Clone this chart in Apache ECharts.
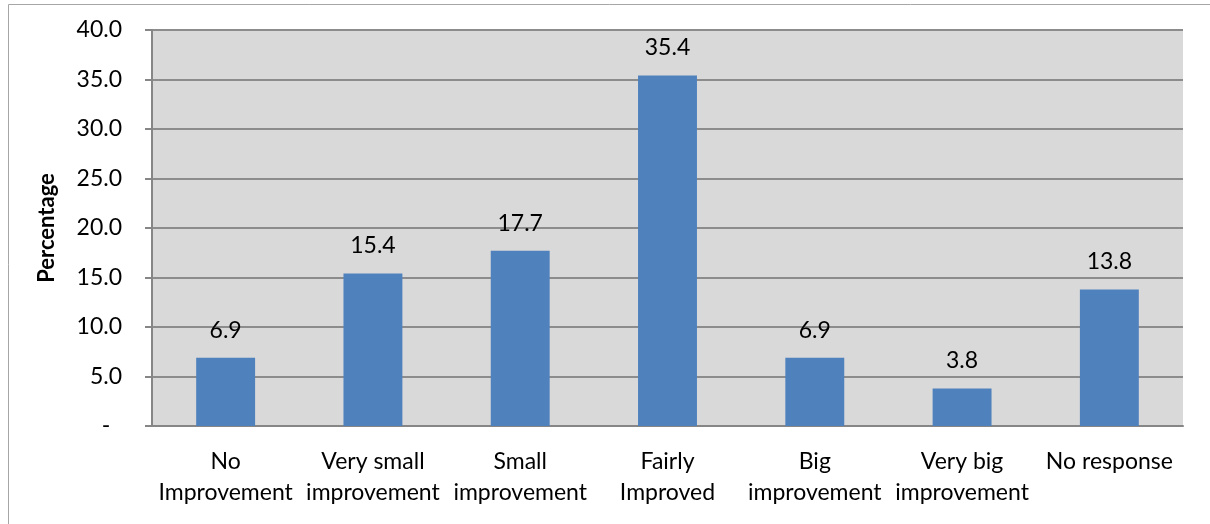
<!DOCTYPE html>
<html><head><meta charset="utf-8">
<script src="https://cdn.jsdelivr.net/npm/echarts@6/dist/echarts.min.js"></script>
<style>html,body{margin:0;padding:0;background:#fff}#c{width:1210px;height:524px}</style>
</head><body><div id="c"></div>
<script>
const categories = ["No\nImprovement","Very small\nimprovement","Small\nimprovement","Fairly\nImproved","Big\nimprovement","Very big\nimprovement","No response"];
const values = [6.9, 15.4, 17.7, 35.4, 6.9, 3.8, 13.8];
const yAxisTitle = "Percentage";
const FONT = "Lato, 'Open Sans', sans-serif";
const chart = echarts.init(document.getElementById('c'), null, {renderer:'canvas'});
chart.setOption({
  animation:false,
  textStyle:{fontFamily:FONT},
  graphic:[{type:'rect', shape:{x:8.5,y:4.5,width:1300,height:600}, style:{fill:null, stroke:'#a6a6a6', lineWidth:1}, z:-1}],
  grid:{left:152, right:27, top:30, bottom:98, show:true, backgroundColor:'#d9d9d9', borderWidth:0},
  xAxis:{type:'category', data:categories,
    axisLine:{lineStyle:{color:'#868686', width:2}},
    axisTick:{show:false},
    axisLabel:{color:'#000', fontSize:23, fontFamily:FONT, lineHeight:31, margin:20, interval:0}
  },
  yAxis:{type:'value', min:0, max:40, interval:5,
    name:yAxisTitle, nameLocation:'middle', nameGap:94, nameRotate:90,
    nameTextStyle:{color:'#000', fontSize:22, fontWeight:'bold', fontFamily:FONT},
    axisLine:{show:true, lineStyle:{color:'#868686', width:2}},
    axisTick:{show:true, length:7, lineStyle:{color:'#868686', width:2}},
    splitLine:{lineStyle:{color:'#8c8c8c', width:2}},
    axisLabel:{color:'#000', fontSize:23, fontFamily:FONT, margin:30,
      formatter:v=> v===0 ? '-  ' : v.toFixed(1)}
  },
  series:[{type:'bar', data:values, barWidth:'40%',
    itemStyle:{color:'#4f81bd'},
    label:{show:true, position:'top', distance:16, color:'#000', fontSize:23, fontFamily:FONT,
      formatter:p=>p.value.toFixed(1)}
  }]
});
</script></body></html>
